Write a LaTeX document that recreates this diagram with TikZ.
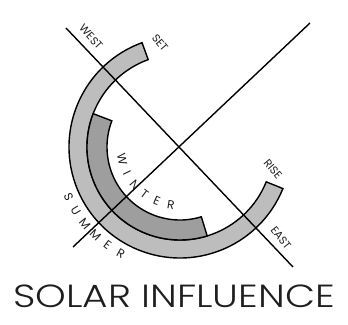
\documentclass[tikz,border=0pt]{standalone}
\usepackage{fontspec}
\setsansfont{Poppins}
\newfontfamily\titlefont{Poppins Light}
\usepackage{tikz}
\definecolor{summerc}{HTML}{BDBDBD}
\definecolor{winterc}{HTML}{9E9E9E}
\definecolor{inkc}{HTML}{1E1E1E}
\tikzset{
  band/.style={draw=black,line width=1.4pt,line join=miter},
  axis/.style={draw=black,line width=1.4pt},
  dirlabel/.style={inkc,font=\sffamily\fontsize{11}{12}\selectfont,inner sep=0pt},
  arclabel/.style={inkc,font=\sffamily\fontsize{12}{13}\selectfont,inner sep=0pt}
}
\begin{document}
\begin{tikzpicture}[x=1pt,y=1pt]
  \useasboundingbox (-180,-177) rectangle (168,147);
  % summer band: 110 deg round to 338 deg
  \fill[summerc] (110:111) arc[start angle=110,end angle=338,radius=111]
    -- (338:93) arc[start angle=338,end angle=110,radius=93] -- cycle;
  \draw[band] (110:111) arc[start angle=110,end angle=338,radius=111]
    -- (338:93) arc[start angle=338,end angle=110,radius=93] -- cycle;
  % winter band, inside
  \fill[winterc] (159:93) arc[start angle=159,end angle=287,radius=93]
    -- (287:73) arc[start angle=287,end angle=159,radius=73] -- cycle;
  \draw[band] (159:93) arc[start angle=159,end angle=287,radius=93]
    -- (287:73) arc[start angle=287,end angle=159,radius=73] -- cycle;
  % the two axes
  \coordinate (nw) at (-114,119);
  \coordinate (se) at (113,-120);
  \coordinate (sw) at (-107,-100);
  \coordinate (ne) at (130,124);
  \draw[axis] (nw) -- (se);
  \draw[axis] (sw) -- (ne);
  % ends
  \node[dirlabel,rotate=-48] (west) at (-89,110) {WEST};
  \node[dirlabel,rotate=-50] (set) at (-20,104) {SET};
  \node[dirlabel,rotate=-50] (rise) at (93,-22) {RISE};
  \node[dirlabel,rotate=-52] (east) at (101,-91) {EAST};
  % letters along the arcs
  \foreach \l/\a [count=\i] in {W/192,I/206,N/220,T/233,E/247,R/261}
    \node[arclabel,rotate=\a+90] (winter\i) at (\a:59) {\l};
  \foreach \l/\a [count=\i] in {S/204,U/211.4,M/218.8,M/226.2,E/233.6,R/241}
    \node[arclabel,rotate=\a+90] (summer\i) at (\a:122) {\l};
  % caption
  \node[inkc,font=\titlefont\fontsize{32}{34}\selectfont,inner sep=0pt,xscale=1.22] (title) at (-6,-149) {SOLAR INFLUENCE};
\end{tikzpicture}
\end{document}
